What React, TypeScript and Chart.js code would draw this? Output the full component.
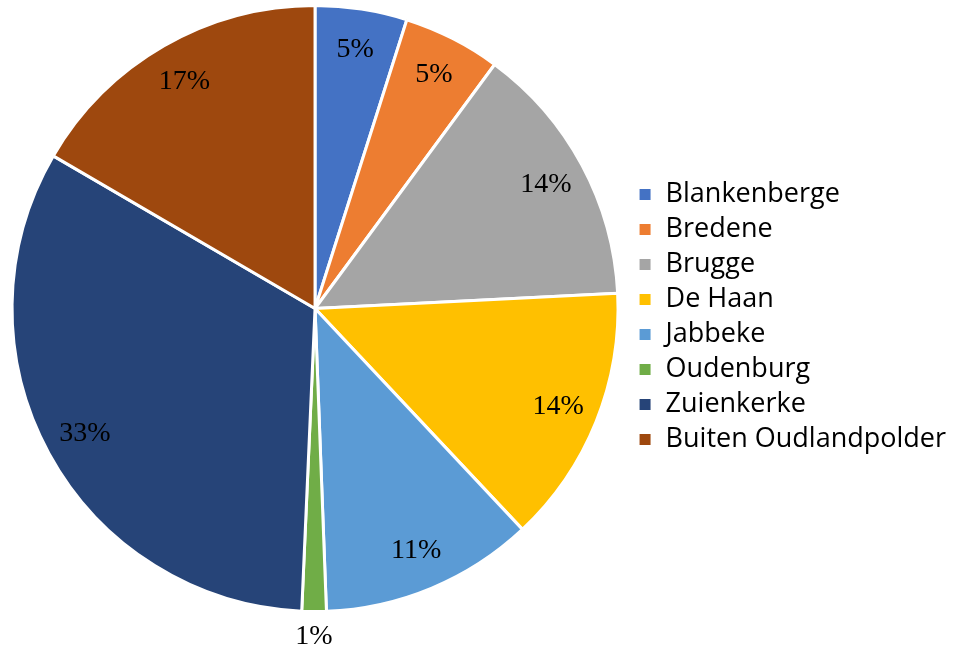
import React, { useEffect, useRef } from "react";
import { Chart, registerables } from "chart.js";

Chart.register(...registerables);

const categories = [
  "Blankenberge",
  "Bredene",
  "Brugge",
  "De Haan",
  "Jabbeke",
  "Oudenburg",
  "Zuienkerke",
  "Buiten Oudlandpolder",
];
const shares = [4.9, 5.2, 14.1, 13.8, 11.4, 1.3, 32.7, 16.6];
const colors = [
  "#4472C4",
  "#ED7D31",
  "#A5A5A5",
  "#FFC000",
  "#5B9BD5",
  "#70AD47",
  "#264478",
  "#9E480E",
];

const sliceLabels = {
  id: "sliceLabels",
  afterDatasetsDraw(chart: any) {
    const ctx = chart.ctx;
    const meta = chart.getDatasetMeta(0);
    const total = shares.reduce((a, b) => a + b, 0);
    ctx.save();
    ctx.font = '28px "Liberation Serif"';
    ctx.fillStyle = "#000";
    ctx.textAlign = "center";
    ctx.textBaseline = "middle";
    meta.data.forEach((arc: any, i: number) => {
      const p = arc.getProps(["x", "y", "startAngle", "endAngle", "outerRadius"], true);
      const mid = (p.startAngle + p.endAngle) / 2;
      const frac = shares[i] / total;
      const r = frac < 0.03 ? p.outerRadius + 25 : p.outerRadius * 0.865;
      ctx.fillText(
        Math.round(frac * 100) + "%",
        p.x + Math.cos(mid) * r,
        p.y + Math.sin(mid) * r
      );
    });
    ctx.restore();
  },
};

export default function App() {
  const ref = useRef<HTMLCanvasElement | null>(null);
  useEffect(() => {
    if (!ref.current) return;
    const chart = new Chart(ref.current, {
      type: "pie",
      data: {
        labels: categories,
        datasets: [
          {
            data: shares,
            backgroundColor: colors,
            borderColor: "#ffffff",
            borderWidth: 3,
          },
        ],
      },
      options: {
        animation: false,
        responsive: true,
        maintainAspectRatio: false,
        layout: { padding: { left: 0, right: 0, top: 4, bottom: 35 } },
        plugins: {
          tooltip: { enabled: false },
          legend: {
            position: "right",
            title: {
              display: true,
              text: " ",
              font: { size: 10, lineHeight: 1 },
              padding: { top: 7, bottom: 0 },
            },
            labels: {
              boxWidth: 14,
              boxHeight: 14,
              padding: 8,
              color: "#000",
              font: { family: '"Open Sans"', size: 27 },
            },
          },
        },
      },
      plugins: [sliceLabels],
    });
    return () => chart.destroy();
  }, []);
  return (
    <div style={{ position: "fixed", left: 0, top: 0, width: 956, height: 648, background: "#fff" }}>
      <canvas ref={ref} />
    </div>
  );
}
